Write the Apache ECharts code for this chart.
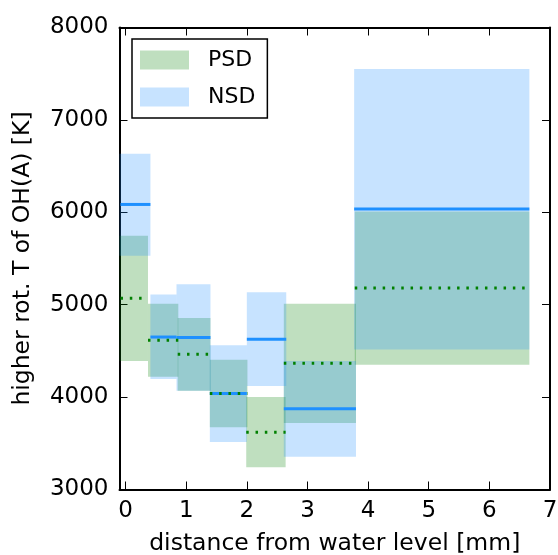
<!DOCTYPE html>
<html>
<head>
<meta charset="utf-8">
<script src="https://cdn.jsdelivr.net/npm/echarts@6/dist/echarts.min.js"></script>
<style>
  html, body { margin: 0; padding: 0; background: #fff; }
  #chart { width: 558px; height: 555px; }
</style>
</head>
<body>
<div id="chart"></div>
<script>
// bin edges (mm) and mean +- std boxes (K)
const psdStart = [-0.1, 0.37, 0.86, 1.39, 1.99, 2.61, 3.78];
const psdEnd = [0.37, 0.87, 1.40, 2.01, 2.64, 3.80, 6.66];
const psdLow = [4390, 4220, 4070, 3675, 3240, 3720, 4350];
const psdHigh = [5745, 5010, 4855, 4405, 4000, 5010, 6010];
const psdMean = [5070, 4615, 4465, 4040, 3620, 4365, 5180];

const nsdStart = [-0.1, 0.41, 0.84, 1.39, 2.0, 2.61, 3.77];
const nsdEnd = [0.41, 0.84, 1.40, 2.0, 2.65, 3.80, 6.66];
const nsdLow = [5530, 4195, 4070, 3515, 4120, 3355, 4515];
const nsdHigh = [6635, 5110, 5220, 4560, 5135, 4390, 7550];
const nsdMean = [6085, 4650, 4645, 4040, 4625, 3875, 6035];

const xTicks = [0, 1, 2, 3, 4, 5, 6, 7];

const PSD_FILL = "rgba(0,128,0,0.25)";
const NSD_FILL = "rgba(30,144,255,0.25)";
const FONT = "DejaVu Sans";

const chart = echarts.init(document.getElementById("chart"));

function boxData(x0, x1, lo, hi) {
  return x0.map((v, i) => [v, x1[i], lo[i], hi[i]]);
}
function meanData(x0, x1, m) {
  return x0.map((v, i) => [v, x1[i], m[i]]);
}

function renderBox(fill) {
  return function (params, api) {
    const p0 = api.coord([api.value(0), api.value(3)]);
    const p1 = api.coord([api.value(1), api.value(2)]);
    const cs = params.coordSys;
    const shape = echarts.graphic.clipRectByRect(
      { x: p0[0], y: p0[1], width: p1[0] - p0[0], height: p1[1] - p0[1] },
      { x: cs.x, y: cs.y, width: cs.width, height: cs.height }
    );
    if (!shape) return;
    return { type: "rect", shape: shape, style: { fill: fill } };
  };
}

function renderMean(color, width, dash) {
  return function (params, api) {
    const cs = params.coordSys;
    const a = api.coord([api.value(0), api.value(2)]);
    const b = api.coord([api.value(1), api.value(2)]);
    return {
      type: "line",
      shape: { x1: Math.max(a[0], cs.x + 1), y1: a[1], x2: b[0], y2: b[1] },
      style: { stroke: color, lineWidth: width, lineDash: dash || null },
    };
  };
}

const tickStyle = { inside: true, length: 8, lineStyle: { color: "#000", width: 1 } };
const spine = { show: true, onZero: false, lineStyle: { color: "#000", width: 2 } };

const option = {
  animation: false,
  backgroundColor: "#fff",
  textStyle: { fontFamily: FONT },
  grid: { left: 119.5, right: 8, top: 27.5, bottom: 65.5, containLabel: false, outerBoundsMode: "none" },
  legend: {
    orient: "vertical",
    left: 132,
    top: 39,
    data: [
      { name: "PSD", itemStyle: { color: PSD_FILL } },
      { name: "NSD", itemStyle: { color: NSD_FILL } },
    ],
    icon: "rect",
    itemWidth: 49,
    itemHeight: 19,
    itemGap: 15,
    borderColor: "#000",
    borderWidth: 1.5,
    padding: [10, 12, 10, 8],
    textStyle: { fontSize: 22, color: "#000", fontFamily: FONT, lineHeight: 19, padding: [0, 0, 0, 14] },
  },
  xAxis: [
    {
      type: "value",
      min: -0.1,
      max: 7,
      name: "distance from water level [mm]",
      nameLocation: "middle",
      nameGap: 42,
      nameTextStyle: { fontSize: 23.5, color: "#000", fontFamily: FONT },
      axisLine: spine,
      axisTick: Object.assign({ customValues: xTicks }, tickStyle),
      axisLabel: { customValues: xTicks, fontSize: 23, color: "#000", margin: 10, fontFamily: FONT },
      splitLine: { show: false },
    },
    {
      type: "value",
      position: "top",
      min: -0.1,
      max: 7,
      axisLine: spine,
      axisTick: Object.assign({ customValues: xTicks }, tickStyle),
      axisLabel: { show: false },
      splitLine: { show: false },
    },
  ],
  yAxis: [
    {
      type: "value",
      min: 3000,
      max: 8000,
      interval: 1000,
      name: "higher rot. T of OH(A) [K]",
      nameLocation: "middle",
      nameGap: 85,
      nameTextStyle: { fontSize: 23.5, color: "#000", fontFamily: FONT },
      axisLine: spine,
      axisTick: tickStyle,
      axisLabel: { fontSize: 23, color: "#000", margin: 11, fontFamily: FONT, formatter: (v) => String(v) },
      splitLine: { show: false },
    },
    {
      type: "value",
      position: "right",
      min: 3000,
      max: 8000,
      interval: 1000,
      axisLine: spine,
      axisTick: tickStyle,
      axisLabel: { show: false },
      splitLine: { show: false },
    },
  ],
  series: [
    {
      name: "PSD",
      type: "custom",
      itemStyle: { color: PSD_FILL },
      renderItem: renderBox(PSD_FILL),
      encode: { x: [0, 1], y: [2, 3] },
      data: boxData(psdStart, psdEnd, psdLow, psdHigh),
      z: 1,
    },
    {
      name: "NSD",
      type: "custom",
      itemStyle: { color: NSD_FILL },
      renderItem: renderBox(NSD_FILL),
      encode: { x: [0, 1], y: [2, 3] },
      data: boxData(nsdStart, nsdEnd, nsdLow, nsdHigh),
      z: 2,
    },
    {
      name: "NSD mean",
      type: "custom",
      renderItem: renderMean("#1e90ff", 3),
      encode: { x: [0, 1], y: 2 },
      data: meanData(nsdStart, nsdEnd, nsdMean),
      z: 3,
    },
    {
      name: "PSD mean",
      type: "custom",
      renderItem: renderMean("#008000", 3, [2.5, 6.8]),
      encode: { x: [0, 1], y: 2 },
      data: meanData(psdStart, psdEnd, psdMean),
      z: 4,
    },
  ],
};

chart.setOption(option);
</script>
</body>
</html>
